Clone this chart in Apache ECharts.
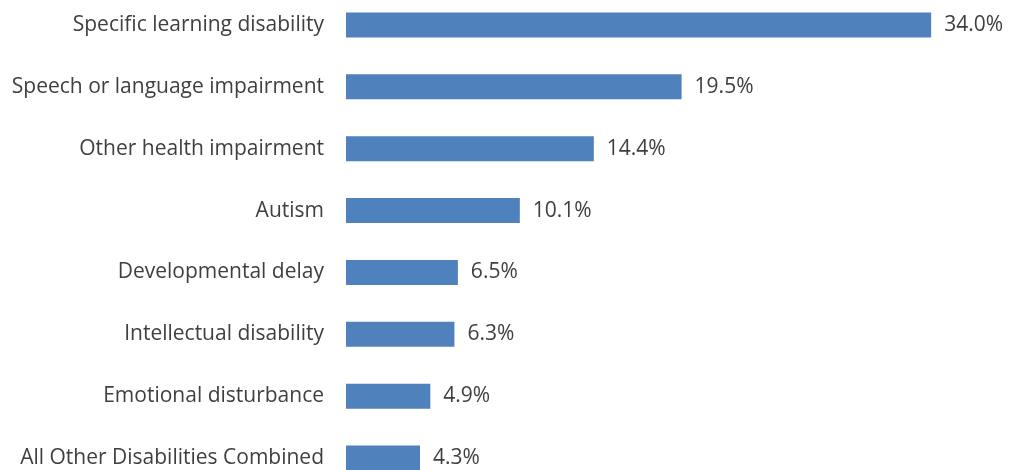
<!DOCTYPE html>
<html>
<head>
<meta charset="utf-8">
<script src="https://cdn.jsdelivr.net/npm/echarts@6/dist/echarts.min.js"></script>
<style>html,body{margin:0;padding:0;background:#fff;overflow:hidden;width:1012px;height:470px}#c{width:1012px;height:495px;margin-top:-6px}</style>
</head>
<body>
<div id="c"></div>
<script>
const categories = [
  "Specific learning disability",
  "Speech or language impairment",
  "Other health impairment",
  "Autism",
  "Developmental delay",
  "Intellectual disability",
  "Emotional disturbance",
  "All Other Disabilities Combined"
];
const values = [34.0, 19.5, 14.4, 10.1, 6.5, 6.3, 4.9, 4.3];

const chart = echarts.init(document.getElementById('c'), null, {renderer: 'canvas'});
chart.setOption({
  animation: false,
  grid: {left: 346, right: 12, top: 0, bottom: 0, containLabel: false},
  xAxis: {type: 'value', min: 0, max: 38, show: false},
  yAxis: {
    type: 'category',
    data: categories,
    inverse: true,
    axisLine: {show: false},
    axisTick: {show: false},
    splitLine: {show: false},
    axisLabel: {margin: 22, color: '#3f3f3f', fontFamily: 'Open Sans', fontSize: 21}
  },
  series: [{
    type: 'bar',
    data: values,
    barWidth: 25,
    itemStyle: {color: '#4F81BD'},
    label: {
      show: true, position: 'right', distance: 13,
      color: '#3f3f3f', fontFamily: 'Open Sans', fontSize: 21,
      formatter: p => p.value.toFixed(1) + '%'
    }
  }]
});
</script>
</body>
</html>
